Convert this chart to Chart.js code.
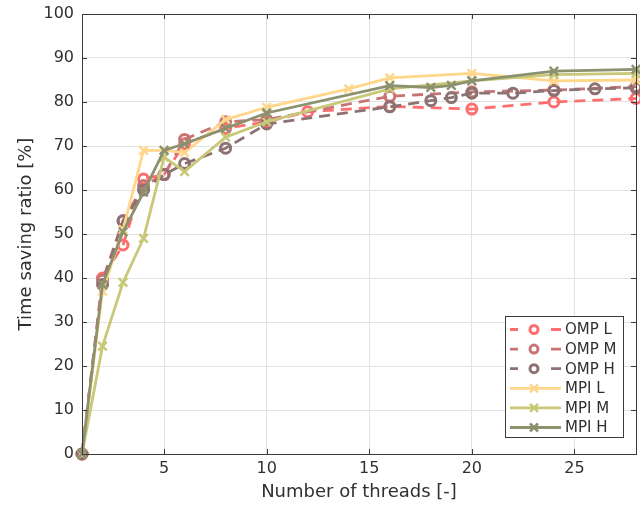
<!DOCTYPE html>
<html>
<head>
    <title>Time saving ratio</title>
    <script src="https://cdn.jsdelivr.net/npm/chart.js"></script>
    <style>
        body { margin: 0; background: #fff; }
    </style>
</head>
<body>
    <canvas id="ratioChart" width="640" height="508"></canvas>
    <script>
        // data
        const seriesNames = ['OMP L', 'OMP M', 'OMP H', 'MPI L', 'MPI M', 'MPI H'];

        const ompLThreads = [1, 2, 3, 4, 5, 6, 8, 10, 12, 16, 20, 24, 28];
        const ompL = [0, 40, 47.5, 62.5, 63.5, 70.5, 74, 75.5, 77.8, 79, 78.4, 80, 80.8];

        const ompMThreads = [1, 2, 3, 4, 5, 6, 8, 10, 16, 20, 24, 28];
        const ompM = [0, 39.5, 53, 61, 63.5, 71.5, 75.5, 76, 81.3, 82.3, 82.7, 83.5];

        const ompHThreads = [1, 2, 3, 4, 5, 6, 8, 10, 16, 18, 19, 20, 22, 24, 26, 28];
        const ompH = [0, 38.5, 53, 60, 63.5, 66, 69.5, 75, 78.9, 80.3, 81, 82, 82, 82.6, 83, 83.2];

        const mpiLThreads = [1, 2, 3, 4, 5, 6, 8, 10, 14, 16, 20, 24, 28];
        const mpiL = [0, 37, 51, 69, 69, 68.5, 76, 78.8, 83, 85.5, 86.5, 84.8, 85];

        const mpiMThreads = [1, 2, 3, 4, 5, 6, 8, 10, 16, 20, 24, 28];
        const mpiM = [0, 24.5, 39, 49, 67.5, 64.2, 72, 75.5, 83, 84.8, 86.2, 86.5];

        const mpiHThreads = [1, 2, 3, 4, 5, 6, 8, 10, 16, 18, 19, 20, 24, 28];
        const mpiH = [0, 38.5, 50.5, 59.5, 69, 70.5, 74, 77.5, 83.7, 83.3, 83.8, 84.8, 87, 87.4];

        const xTicks = [5, 10, 15, 20, 25];
        const yTicks = [0, 10, 20, 30, 40, 50, 60, 70, 80, 90, 100];

        const colors = ['#ff6e6e', '#c87474', '#8c7272', '#ffd68a', '#c8c878', '#8c916e'];
        const axisColor = '#3a3a3a';
        const font = 'DejaVu Sans';

        function pts(xs, ys) {
            return xs.map((x, i) => ({ x: x, y: ys[i] }));
        }

        const series = [
            [ompLThreads, ompL], [ompMThreads, ompM], [ompHThreads, ompH],
            [mpiLThreads, mpiL], [mpiMThreads, mpiM], [mpiHThreads, mpiH]
        ];

        const datasets = series.map((s, i) => {
            const omp = i < 3;
            return {
                label: seriesNames[i],
                data: pts(s[0], s[1]),
                borderColor: colors[i],
                backgroundColor: colors[i],
                borderWidth: 2.8,
                borderDash: omp ? [11, 7] : [],
                pointStyle: omp ? 'circle' : 'crossRot',
                pointRadius: omp ? 5 : 6,
                pointBorderWidth: omp ? 3 : 2.5,
                pointBackgroundColor: 'rgba(255,255,255,0)',
                pointBorderColor: colors[i],
                tension: 0,
                clip: 8,
                order: 5 - i
            };
        });

        // matlab-like box, inward ticks and legend inside the axes
        const frame = {
            id: 'frame',
            afterDraw(chart) {
                const ctx = chart.ctx;
                const a = chart.chartArea;
                const xs = chart.scales.x, ys = chart.scales.y;
                ctx.save();
                ctx.strokeStyle = axisColor;
                ctx.lineWidth = 1;
                ctx.beginPath();
                xTicks.forEach(v => {
                    const px = Math.round(xs.getPixelForValue(v)) + 0.5;
                    ctx.moveTo(px, a.bottom); ctx.lineTo(px, a.bottom - 5);
                    ctx.moveTo(px, a.top); ctx.lineTo(px, a.top + 5);
                });
                yTicks.forEach(v => {
                    const py = Math.round(ys.getPixelForValue(v)) + 0.5;
                    ctx.moveTo(a.left, py); ctx.lineTo(a.left + 5, py);
                    ctx.moveTo(a.right, py); ctx.lineTo(a.right - 5, py);
                });
                ctx.stroke();
                ctx.strokeRect(Math.round(a.left) + 0.5, Math.round(a.top) + 0.5,
                    Math.round(a.right - a.left), Math.round(a.bottom - a.top));

                // legend
                const bx = 505, by = 316, bw = 118, bh = 121;
                ctx.fillStyle = '#fff';
                ctx.fillRect(bx, by, bw, bh);
                ctx.strokeRect(bx + 0.5, by + 0.5, bw, bh);
                ctx.font = '15px "' + font + '"';
                ctx.textBaseline = 'middle';
                chart.data.datasets.forEach((d, i) => {
                    const y = by + 13.5 + i * 19.6;
                    ctx.strokeStyle = d.borderColor;
                    ctx.lineWidth = 2.8;
                    ctx.beginPath();
                    if (i < 3) {
                        ctx.moveTo(510, y); ctx.lineTo(518, y);
                        ctx.moveTo(551, y); ctx.lineTo(561, y);
                    } else {
                        ctx.moveTo(510, y); ctx.lineTo(561, y);
                    }
                    ctx.stroke();
                    ctx.lineWidth = 3;
                    ctx.beginPath();
                    if (i < 3) {
                        ctx.arc(534, y, 4, 0, Math.PI * 2);
                    } else {
                        ctx.lineWidth = 2.5;
                        ctx.moveTo(530, y - 4); ctx.lineTo(538, y + 4);
                        ctx.moveTo(530, y + 4); ctx.lineTo(538, y - 4);
                    }
                    ctx.stroke();
                    ctx.fillStyle = '#303030';
                    ctx.fillText(d.label, 565, y + 1);
                });
                ctx.restore();
            }
        };

        new Chart(document.getElementById('ratioChart'), {
            type: 'line',
            data: { datasets: datasets },
            options: {
                responsive: false,
                animation: false,
                layout: { autoPadding: false, padding: { top: 14, right: 4, left: 0, bottom: 0 } },
                plugins: {
                    legend: { display: false },
                    tooltip: { enabled: false }
                },
                scales: {
                    x: {
                        type: 'linear',
                        min: 1,
                        max: 28,
                        afterBuildTicks: s => { s.ticks = xTicks.map(v => ({ value: v })); },
                        afterFit: s => { s.height = 54; s.paddingLeft = 0; s.paddingRight = 0; },
                        ticks: {
                            autoSkip: false,
                            maxRotation: 0,
                            padding: 5,
                            color: '#303030',
                            font: { family: font, size: 16 }
                        },
                        grid: { color: '#e2e2e2', drawTicks: false },
                        border: { display: false },
                        title: {
                            display: true,
                            text: 'Number of threads [-]',
                            color: '#303030',
                            font: { family: font, size: 18 },
                            padding: { top: 0, bottom: 5 }
                        }
                    },
                    y: {
                        min: 0,
                        max: 100,
                        afterBuildTicks: s => { s.ticks = yTicks.map(v => ({ value: v })); },
                        afterFit: s => { s.width = 82; s.paddingTop = 0; s.paddingBottom = 0; },
                        ticks: {
                            padding: 8,
                            color: '#303030',
                            font: { family: font, size: 16 }
                        },
                        grid: { color: '#e2e2e2', drawTicks: false },
                        border: { display: false },
                        title: {
                            display: true,
                            text: 'Time saving ratio [%]',
                            color: '#303030',
                            font: { family: font, size: 18 },
                            padding: { top: 16, bottom: 0 }
                        }
                    }
                }
            },
            plugins: [frame]
        });
    </script>
</body>
</html>
